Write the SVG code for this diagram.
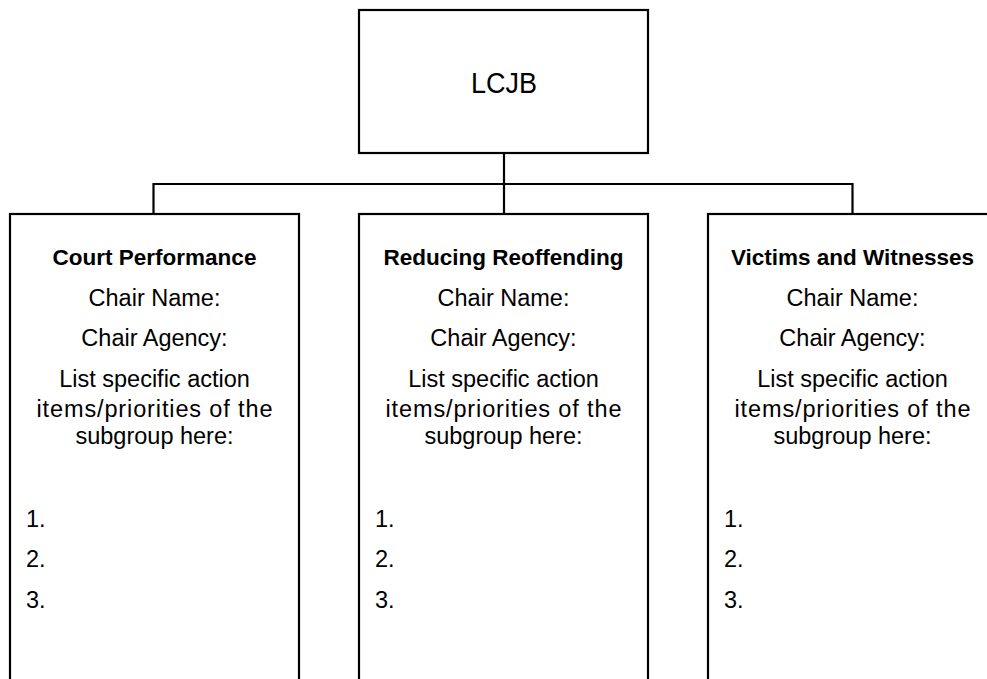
<svg xmlns="http://www.w3.org/2000/svg" width="987" height="679" viewBox="0 0 987 679">
<style>
.box{fill:#fff;stroke:#000;stroke-width:2.2}
.conn{fill:none;stroke:#000;stroke-width:2.2}
text{font-family:"Liberation Sans",Arial,sans-serif;font-size:23.5px;fill:#000}
.c{text-anchor:middle}
.t{font-weight:bold;font-size:22.5px}
.big{font-size:29px}
</style>
<rect width="987" height="679" fill="#fff"/>
<g id="connectors">
<path class="conn" d="M504,153 V184 M153.5,214 V184 H852.5 V214 M504,184 V214"/>
</g>
<g id="lcjb">
<rect class="box" x="359" y="10" width="289" height="143"/>
<text class="c big" x="504" y="93" textLength="66" lengthAdjust="spacingAndGlyphs">LCJB</text>
</g>
<g id="court">
<rect class="box" x="10" y="214" width="289" height="480"/>
<text class="c t" x="154.5" y="265">Court Performance</text>
<text class="c" x="154.5" y="306">Chair Name:</text>
<text class="c" x="154.5" y="346">Chair Agency:</text>
<text class="c" x="154.5" y="387">List specific action</text>
<text class="c" x="154.5" y="417" textLength="236">items/priorities of the</text>
<text class="c" x="154.5" y="444">subgroup here:</text>
<text x="26" y="527">1.</text>
<text x="26" y="567">2.</text>
<text x="26" y="608">3.</text>
</g>
<g id="reoffending">
<rect class="box" x="359" y="214" width="289" height="480"/>
<text class="c t" x="503.5" y="265">Reducing Reoffending</text>
<text class="c" x="503.5" y="306">Chair Name:</text>
<text class="c" x="503.5" y="346">Chair Agency:</text>
<text class="c" x="503.5" y="387">List specific action</text>
<text class="c" x="503.5" y="417" textLength="236">items/priorities of the</text>
<text class="c" x="503.5" y="444">subgroup here:</text>
<text x="375" y="527">1.</text>
<text x="375" y="567">2.</text>
<text x="375" y="608">3.</text>
</g>
<g id="victims">
<rect class="box" x="708" y="214" width="289" height="480"/>
<text class="c t" x="852.5" y="265">Victims and Witnesses</text>
<text class="c" x="852.5" y="306">Chair Name:</text>
<text class="c" x="852.5" y="346">Chair Agency:</text>
<text class="c" x="852.5" y="387">List specific action</text>
<text class="c" x="852.5" y="417" textLength="236">items/priorities of the</text>
<text class="c" x="852.5" y="444">subgroup here:</text>
<text x="724" y="527">1.</text>
<text x="724" y="567">2.</text>
<text x="724" y="608">3.</text>
</g>
</svg>
